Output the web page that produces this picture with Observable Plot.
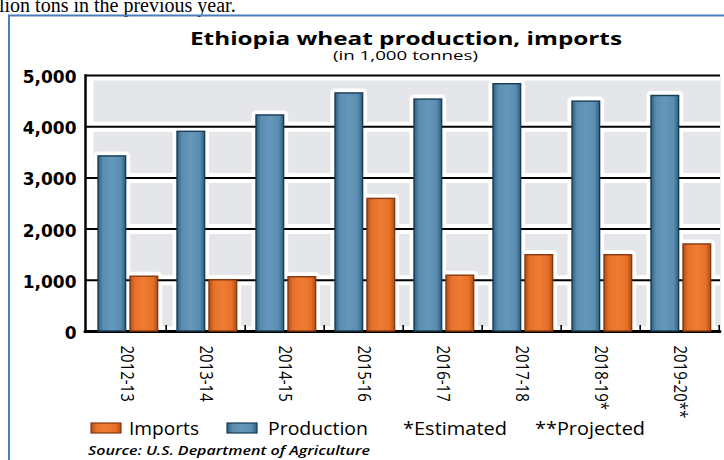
<!DOCTYPE html>
<html><head><meta charset="utf-8">
<script src="https://cdn.jsdelivr.net/npm/d3@7"></script>
<script src="https://cdn.jsdelivr.net/npm/@observablehq/plot@0.6"></script>
<style>
html,body{margin:0;padding:0;background:#fff;overflow:hidden;width:724px;height:460px}
#chart{position:relative;width:724px;height:460px}
</style></head><body><div id="chart"></div>
<script>
// ---- data ----
const categories = ["2012-13","2013-14","2014-15","2015-16","2016-17","2017-18","2018-19*","2019-20**"];
const production = [3420, 3900, 4220, 4650, 4530, 4830, 4490, 4600];
const imports    = [1070, 1000, 1060, 2590, 1090, 1490, 1490, 1700];
const yTicks = [0, 1000, 2000, 3000, 4000, 5000];
const seriesNames = ["Imports", "Production"];
const notes = ["*Estimated", "**Projected"];
const titleText = "Ethiopia wheat production, imports";
const subtitleText = "(in 1,000 tonnes)";
const sourceText = "Source: U.S. Department of Agriculture";
const pageText = "lion tons in the previous year.";

const prodData = categories.map((c, i) => ({category: c, value: production[i]}));
const impData  = categories.map((c, i) => ({category: c, value: imports[i]}));

// ---- layout ----
const W = 724, H = 460, mL = 85, mR = 4, mT = 75, mB = 129;
const bw = (W - mL - mR) / categories.length;
const LEFT = 11, BAR_W = 28, GAP = 4;
const prodInset = {insetLeft: LEFT, insetRight: bw - LEFT - BAR_W};
const impInset  = {insetLeft: LEFT + BAR_W + GAP, insetRight: bw - LEFT - 2 * BAR_W - GAP};
const BLUE = "url(#gradBlue)", ORANGE = "url(#gradOrange)";
const BLUE_EDGE = "#173d56", ORANGE_EDGE = "#86380f";

const chart = Plot.plot({
  width: W, height: H,
  marginLeft: mL, marginRight: mR, marginTop: mT, marginBottom: mB,
  style: {background: "#fff", color: "#000"},
  x: {domain: categories, padding: 0, label: null},
  y: {domain: [0, 5000], label: null},
  marks: [
    Plot.frame({fill: "#e5e6e9", stroke: null, insetLeft: 8}),
    // white halos around bars
    Plot.barY(prodData, {x: "category", y: "value", ...prodInset, fill: "#fff", stroke: "#fff", strokeWidth: 9, strokeLinejoin: "round"}),
    Plot.barY(impData,  {x: "category", y: "value", ...impInset,  fill: "#fff", stroke: "#fff", strokeWidth: 9, strokeLinejoin: "round"}),
    // gridlines with white halo
    Plot.ruleY(yTicks, {stroke: "#fff", strokeWidth: 10}),
    Plot.ruleY(yTicks.filter(d => d > 0), {stroke: "#000", strokeWidth: 2}),
    Plot.ruleY([0], {stroke: "#000", strokeWidth: 3, strokeLinecap: "round"}),
    Plot.frame({anchor: "left", stroke: "#000", strokeWidth: 2.5}),
    // bars
    Plot.barY(prodData, {x: "category", y: "value", ...prodInset, fill: BLUE, stroke: BLUE_EDGE, strokeWidth: 1.4}),
    Plot.barY(impData,  {x: "category", y: "value", ...impInset,  fill: ORANGE, stroke: ORANGE_EDGE, strokeWidth: 1.4}),
    // small ticks at the right edge of each category band
    Plot.barY(categories, {x: d => d, y1: 0, y2: 0, insetLeft: bw - 1, insetRight: -1, insetTop: -6, fill: "#000"}),
    Plot.axisY({ticks: yTicks, tickFormat: d3.format(","), tickSize: 0, tickPadding: 9, dy: 2,
      fontSize: 17, fontWeight: "bold", fontFamily: "DejaVu Sans", label: null}),
    Plot.axisX({tickRotate: 90, tickSize: 0, tickPadding: 14, fontSize: 15, fontFamily: "Open Sans", label: null})
  ]
});
document.getElementById("chart").appendChild(chart);

const svg = d3.select(chart);
// gradients
const defs = svg.insert("defs", ":first-child");
function grad(id, edge, mid, center) {
  const g = defs.append("linearGradient").attr("id", id).attr("x1", "0").attr("x2", "1").attr("y1", "0").attr("y2", "0");
  [[0, edge], [0.18, mid], [0.5, center], [0.82, mid], [1, edge]].forEach(([o, c]) =>
    g.append("stop").attr("offset", o).attr("stop-color", c));
}
grad("gradBlue", "#2f5f7f", "#5a8daf", "#6497b9");
grad("gradOrange", "#b24f17", "#e8712a", "#ef7c33");

// stretch the rotated x labels horizontally, like the reference
svg.selectAll('[aria-label="x-axis tick label"] text').each(function () {
  const t = this.getAttribute("transform") || "";
  this.setAttribute("transform", t + " scale(1,1.22)");
});

// page decorations and texts
const deco = svg.append("g").attr("text-anchor", "start");
deco.append("text").attr("x", -1).attr("y", 11.5).attr("text-anchor", "start")
  .attr("font-family", "Liberation Serif").attr("font-size", 20).attr("fill", "#000").text(pageText);
deco.append("path").attr("d", `M9,${H} V15.5 H${W}`).attr("fill", "none").attr("stroke", "#4a7dbb").attr("stroke-width", 2);

function fitText(x, y, len, txt, font) {
  return deco.append("text").attr("x", x).attr("y", y).attr("text-anchor", "start")
    .attr("textLength", len).attr("lengthAdjust", "spacingAndGlyphs")
    .attr("font-family", font.family).attr("font-size", font.size)
    .attr("font-weight", font.weight || "normal").attr("font-style", font.style || "normal")
    .attr("fill", "#000").text(txt);
}
fitText(190, 45, 432, titleText, {family: "Open Sans", size: 18, weight: 700});
fitText(333, 60, 145, subtitleText, {family: "Open Sans", size: 13});

// legend
const swatches = [{x: 91, fill: ORANGE, stroke: ORANGE_EDGE}, {x: 227, fill: BLUE, stroke: BLUE_EDGE}];
swatches.forEach(s => deco.append("rect").attr("x", s.x).attr("y", 423).attr("width", 30).attr("height", 10)
  .attr("fill", s.fill).attr("stroke", s.stroke).attr("stroke-width", 1.2));
const legendSpans = [[129, 70], [268, 100]];
seriesNames.forEach((n, i) => fitText(legendSpans[i][0], 435, legendSpans[i][1], n, {family: "Open Sans", size: 18}));
const noteSpans = [[403, 104], [535, 110]];
notes.forEach((n, i) => fitText(noteSpans[i][0], 435, noteSpans[i][1], n, {family: "Open Sans", size: 18}));
fitText(88, 455, 282, sourceText, {family: "Open Sans", size: 13, weight: 600, style: "italic"});
</script>
</body></html>
